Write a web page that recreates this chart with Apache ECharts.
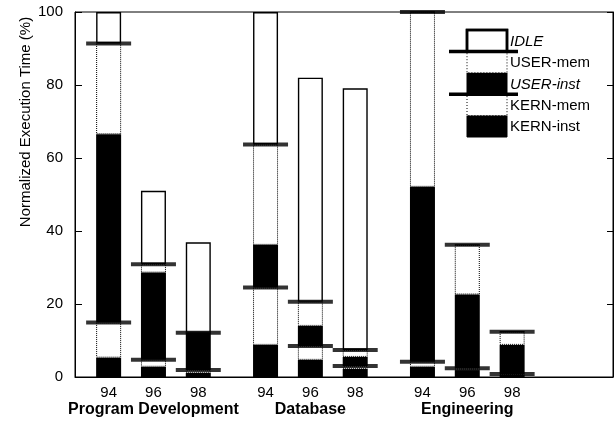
<!DOCTYPE html>
<html>
<head>
<meta charset="utf-8">
<script src="https://cdn.jsdelivr.net/npm/echarts@6/dist/echarts.min.js"></script>
<style>html,body{margin:0;padding:0;background:#fff}#c{width:614px;height:423px}</style>
</head>
<body>
<div id="c"></div>
<script>
// ---- data ----
const groups = ['Program Development', 'Database', 'Engineering'];
const years = ['94', '96', '98'];
const yTicks = [0, 20, 40, 60, 80, 100];
// order: PD94, PD96, PD98, DB94, DB96, DB98, EN94, EN96, EN98
const kernInst = [5.3, 2.8, 1.1, 8.8, 4.7, 2.2, 2.8, 1.9, 0.6];
const kernMem  = [9.6, 1.9, 0.8, 15.7, 3.8, 0.8, 1.4, 0.5, 0.2];
const userInst = [51.6, 23.9, 10.2, 11.7, 5.5, 2.5, 47.9, 20.2, 8.0];
const userMem  = [24.9, 2.3, 0.0, 27.5, 6.6, 1.9, 47.9, 13.6, 3.6];
const idle     = [8.6, 20.1, 24.8, 36.3, 61.4, 71.7, 0, 0, 0];
const legendNames = ['IDLE', 'USER-mem', 'USER-inst', 'KERN-mem', 'KERN-inst'];

// ---- layout of category slots ----
const SLOTS = 24;
const slotOf = k => 1 + 7 * Math.floor(k / 3) + 2 * (k % 3);
const cats = Array.from({length: SLOTS}, (_, i) => 's' + i);
const yearLabel = new Array(SLOTS).fill('');
const groupLabel = new Array(SLOTS).fill('');
for (let k = 0; k < 9; k++) yearLabel[slotOf(k)] = years[k % 3];
groups.forEach((g, gi) => { groupLabel[slotOf(gi * 3 + 1)] = g; });
function pad(vals) {
  const a = new Array(SLOTS).fill(null);
  vals.forEach((v, k) => { a[slotOf(k)] = v; });
  return a;
}
const kernTotal = kernInst.map((v, k) => v + kernMem[k]);
const busyTotal = kernTotal.map((v, k) => v + userInst[k] + userMem[k]);
const lineData = [];
for (let k = 0; k < 9; k++) {
  lineData.push([slotOf(k), kernTotal[k]]);
  lineData.push([slotOf(k), busyTotal[k]]);
}

const BW = 25;
const blackStyle = {color: '#000'};
const dottedStyle = {color: '#fff', borderColor: '#000', borderWidth: 1, borderType: 'dotted'};
const idleStyle = {color: '#fff', borderColor: '#000', borderWidth: 1.4, borderType: 'solid'};
function barSeries(name, vals, style) {
  return {name, type: 'bar', stack: 'all', barWidth: BW, data: pad(vals), itemStyle: style,
          emphasis: {disabled: true}, animation: false, xAxisIndex: 0, yAxisIndex: 0};
}

const FONT = 'Liberation Sans, Arial, sans-serif';
const chart = echarts.init(document.getElementById('c'), null, {renderer: 'canvas'});

// legend graphic
const LX = 467, LY = 30, LW = 40, LH = 21.4;
const legendG = [];
const legStyles = [
  {fill: '#fff', stroke: '#000', lineWidth: 2.5},
  {fill: '#fff', stroke: '#000', lineWidth: 1, lineDash: [1, 2]},
  {fill: '#000', stroke: '#000', lineWidth: 1},
  {fill: '#fff', stroke: '#000', lineWidth: 1, lineDash: [1, 2]},
  {fill: '#000', stroke: '#000', lineWidth: 1}
];
[4, 3, 2, 1, 0].forEach(i => {
  legendG.push({type: 'rect', shape: {x: LX, y: LY + i * LH, width: LW, height: LH}, style: legStyles[i], z: 100});
});
legendG.push({type: 'rect', shape: {x: LX, y: LY, width: LW, height: LH}, style: {fill: 'none', stroke: '#000', lineWidth: 2.5}, z: 101});
[1, 3].forEach(i => {
  legendG.push({type: 'rect', shape: {x: 449, y: LY + i * LH - 1.75, width: 69, height: 3.5}, style: {fill: '#000'}, z: 102});
});
legendNames.forEach((n, i) => {
  legendG.push({type: 'text', x: 510, y: LY + i * LH + LH / 2 + 1, z: 102,
    style: {text: n, fill: '#000', font: ((i === 0 || i === 2) ? 'italic ' : '') + '15px ' + FONT,
            textAlign: 'left', textVerticalAlign: 'middle'}});
});
legendG.push({type: 'text', x: 26, y: 122, rotation: Math.PI / 2, z: 102,
  style: {text: 'Normalized Execution Time (%)', fill: '#000', font: '15px ' + FONT,
          textAlign: 'center', textVerticalAlign: 'middle'}});

chart.setOption({
  animation: false,
  backgroundColor: '#fff',
  grid: {left: 75, right: 1, top: 12, bottom: 46, show: true, borderColor: '#000', borderWidth: 1, backgroundColor: 'transparent'},
  xAxis: [
    {type: 'category', data: cats, boundaryGap: true,
     axisLine: {lineStyle: {color: '#000', width: 1}}, axisTick: {show: false},
     axisLabel: {interval: 0, margin: 8, color: '#000', fontSize: 15, fontFamily: FONT, formatter: (v, i) => yearLabel[i]},
     splitLine: {show: false}},
    {type: 'category', data: cats, boundaryGap: true, position: 'bottom',
     axisLine: {show: false}, axisTick: {show: false},
     axisLabel: {interval: 0, margin: 25, color: '#000', fontSize: 16, fontWeight: 'bold', fontFamily: FONT, formatter: (v, i) => groupLabel[i]},
     splitLine: {show: false}}
  ],
  yAxis: [
    {type: 'value', min: yTicks[0], max: yTicks[yTicks.length - 1], interval: 20,
     axisLine: {show: true, lineStyle: {color: '#000'}},
     axisTick: {show: true, inside: true, length: 7, lineStyle: {color: '#000'}},
     axisLabel: {color: '#000', fontSize: 15, fontFamily: FONT, margin: 12},
     splitLine: {show: false}},
    {type: 'value', min: yTicks[0], max: yTicks[yTicks.length - 1], interval: 20, position: 'right',
     axisLine: {show: true, lineStyle: {color: '#000'}},
     axisTick: {show: true, inside: true, length: 6, lineStyle: {color: '#000'}},
     axisLabel: {show: false}, splitLine: {show: false}}
  ],
  series: [
    barSeries('KERN-inst', kernInst, blackStyle),
    barSeries('KERN-mem', kernMem, dottedStyle),
    barSeries('USER-inst', userInst, blackStyle),
    barSeries('USER-mem', userMem, dottedStyle),
    barSeries('IDLE', idle, idleStyle),
    {name: 'bounds', type: 'scatter', data: lineData, symbol: 'rect', symbolSize: [45, 4],
     itemStyle: {color: '#000'}, z: 10, xAxisIndex: 0, yAxisIndex: 0, emphasis: {disabled: true}, animation: false}
  ],
  graphic: legendG
});
</script>
</body>
</html>
